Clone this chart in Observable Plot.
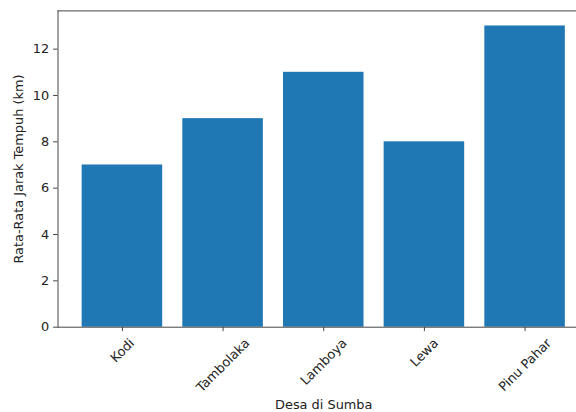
<!DOCTYPE html>
<html>
<head>
<meta charset="utf-8">
<script src="https://cdn.jsdelivr.net/npm/d3@7"></script>
<script src="https://cdn.jsdelivr.net/npm/@observablehq/plot@0.6"></script>
<style>
  html, body { margin: 0; padding: 0; background: #fff; overflow: hidden; }
  #chart svg { display: block; }
</style>
</head>
<body>
<div id="chart"></div>
<script>
const desa = ["Kodi", "Tambolaka", "Lamboya", "Lewa", "Pinu Pahar"];
const jarak = [7, 9, 11, 8, 13];
const yTicks = [0, 2, 4, 6, 8, 10, 12];
const xLabel = "Desa di Sumba";
const yLabel = "Rata-Rata Jarak Tempuh (km)";

const data = desa.map((d, i) => ({desa: d, jarak: jarak[i]}));

const W = 576, H = 412;
const mL = 57.5, mT = 10.4, mB = 85.3, mR = 0;
const xRange = [57.5, 589];
const fs = 12.9;
const tick = 4.4, pad = 4.4;
const ink = "#222";

const ctx = document.createElement("canvas").getContext("2d");
ctx.font = `${fs}px "DejaVu Sans"`;
const halfDiag = s => (ctx.measureText(s).width + fs * 1.1) * Math.SQRT1_2 / 2;

const xLabels = desa.map(c => Plot.text([c], {
  x: d => d, frameAnchor: "bottom", text: d => d,
  rotate: -45, textAnchor: "middle", lineAnchor: "middle",
  dy: tick + pad + halfDiag(c), fill: ink, fontSize: fs
}));

const frameCenter = (mL + (W - mR)) / 2;
const rangeCenter = (xRange[0] + xRange[1]) / 2;

const chart = Plot.plot({
  width: W, height: H,
  marginLeft: mL, marginRight: mR, marginTop: mT, marginBottom: mB,
  style: {fontFamily: "DejaVu Sans", fontSize: fs + "px", color: ink, background: "#fff"},
  x: {type: "band", domain: desa, range: xRange, paddingInner: 0.2, paddingOuter: 0.24, align: 0.5, round: false},
  y: {domain: [0, 13.65]},
  marks: [
    Plot.barY(data, {x: "desa", y: "jarak", fill: "#1f77b4", inset: 0}),
    Plot.axisY({ticks: yTicks, tickSize: tick, tickPadding: pad, label: null, fontSize: fs, stroke: "#444", fill: ink}),
    Plot.axisX({tickSize: tick, tickFormat: () => "", label: null, stroke: "#444"}),
    ...xLabels,
    Plot.text([xLabel], {frameAnchor: "bottom", text: d => d, dy: 78, dx: rangeCenter - frameCenter, lineAnchor: "middle", fill: ink, fontSize: fs}),
    Plot.text([yLabel], {frameAnchor: "left", text: d => d, rotate: -90, dx: -39.5, lineAnchor: "middle", textAnchor: "middle", fill: ink, fontSize: fs}),
    Plot.frame({anchor: "top", stroke: "#444"}),
    Plot.frame({anchor: "left", stroke: "#444"}),
    Plot.frame({anchor: "bottom", stroke: "#444"})
  ]
});
document.getElementById("chart").appendChild(chart);
</script>
</body>
</html>
